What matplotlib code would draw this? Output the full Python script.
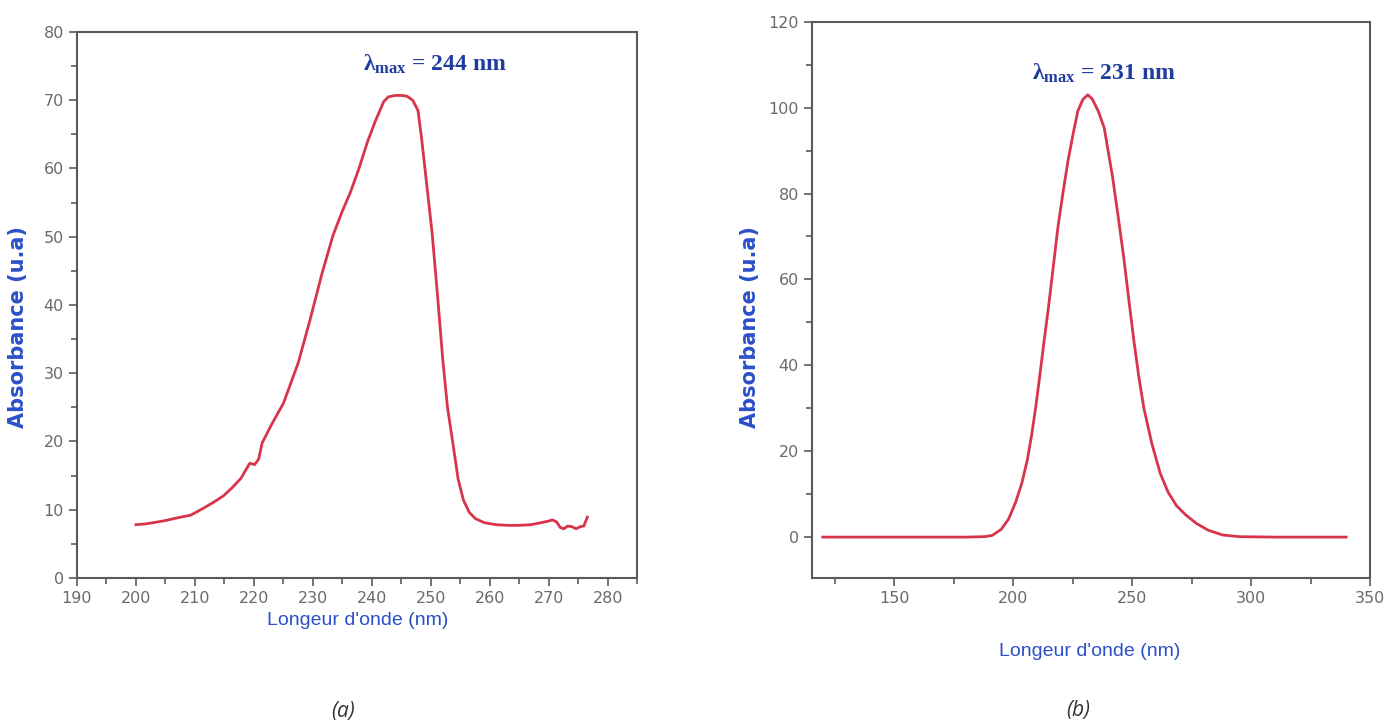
import matplotlib
matplotlib.use("Agg")
import matplotlib.pyplot as plt
from matplotlib.ticker import MultipleLocator

# (a) spectrum
wl_a = [200, 201.5, 203, 205, 207, 209.3, 211, 213, 214.8, 216.4,
        217.8, 218.6, 219.3, 220.1, 220.8, 221.4, 223, 225, 227.5, 229.5,
        231.5, 233.4, 235, 236.3, 237.8, 239.2, 240.6, 242, 242.8, 244,
        245, 245.9, 246.9, 247.8, 248.4, 249.3, 250.2, 251.1, 252, 252.8,
        253.7, 254.6, 255.5, 256.5, 257.5, 259, 261, 263, 265, 267,
        268.7, 269.8, 270.6, 271.3, 271.9, 272.5, 273.2, 273.9, 274.6, 275.3,
        275.9, 276.5]
abs_a = [7.8, 7.9, 8.1, 8.4, 8.8, 9.2, 10.0, 11.0, 12.0, 13.3,
         14.6, 15.8, 16.8, 16.6, 17.4, 19.8, 22.5, 25.6, 31.5, 37.8,
         44.5, 50.2, 53.8, 56.4, 60.0, 63.8, 67.0, 69.8, 70.5, 70.7,
         70.7, 70.6, 70.0, 68.5, 64.5, 57.5, 50.5, 41.5, 32.0, 25.0,
         19.8, 14.5, 11.4, 9.6, 8.7, 8.1, 7.8, 7.7, 7.7, 7.8,
         8.1, 8.3, 8.5, 8.2, 7.4, 7.2, 7.6, 7.5, 7.2, 7.5,
         7.6, 8.9]

# (b) spectrum
wl_b = [120, 150, 180, 188, 191.3, 195, 198.1, 201, 203.7, 206,
        207.9, 209.7, 211.3, 213, 214.8, 216.8, 218.9, 221, 223.1, 225.2,
        227.2, 229.3, 231.4, 233.3, 235.8, 238.3, 241.8, 244.2, 246.6, 248.7,
        250.8, 252.8, 254.9, 258.3, 261.8, 265.2, 268.7, 272.5, 277, 282,
        288, 295, 310, 340]
abs_b = [0, 0, 0, 0.1, 0.4, 1.8, 4.2, 8.0, 12.6, 18.0,
         24.1, 31.0, 37.9, 45.5, 53.2, 62.5, 72.4, 80.3, 87.7, 93.8,
         99.2, 101.9, 103.0, 102.0, 99.2, 95.3, 83.9, 74.5, 64.7, 55.0,
         45.6, 37.5, 30.2, 21.8, 14.9, 10.4, 7.3, 5.2, 3.2, 1.6,
         0.5, 0.1, 0, 0]

LINE = "#d8344c"
BLUE = "#2b50c8"
DARKBLUE = "#1f3d9e"
SPINE = "#5a5a5a"
TICKTXT = "#6a6a6a"

plt.rcParams["mathtext.fontset"] = "custom"
plt.rcParams["mathtext.rm"] = "Liberation Serif:bold"
plt.rcParams["mathtext.it"] = "Liberation Serif:bold"
plt.rcParams["mathtext.bf"] = "Liberation Serif:bold"


def style_axes(ax, xmajor, xminor, ymajor, yminor):
    for side in ["left", "right", "top", "bottom"]:
        ax.spines[side].set_color(SPINE)
        ax.spines[side].set_linewidth(1.5)
    ax.xaxis.set_major_locator(MultipleLocator(xmajor))
    ax.xaxis.set_minor_locator(MultipleLocator(xminor))
    ax.yaxis.set_major_locator(MultipleLocator(ymajor))
    ax.yaxis.set_minor_locator(MultipleLocator(yminor))
    ax.tick_params(which="both", direction="out", colors=SPINE,
                   labelcolor=TICKTXT, width=1.2, top=False, right=False)
    ax.tick_params(which="major", length=6, labelsize=11.5)
    ax.tick_params(which="minor", length=4)


fig = plt.figure(figsize=(13.84, 7.26), dpi=100)

# panel (a)
ax1 = fig.add_axes([0.0556, 0.204, 0.405, 0.752])
ax1.plot(wl_a, abs_a, color=LINE, lw=2)
ax1.set_xlim(190, 285)
ax1.set_ylim(0, 80)
style_axes(ax1, 10, 5, 10, 5)
ax1.text(238.5, 74.3, r"$\lambda_{\mathrm{max}}$ = 244 nm", color=DARKBLUE,
         fontsize=17, family="Liberation Serif", weight="bold",
         ha="left", va="baseline")

# panel (b)
ax2 = fig.add_axes([0.5867, 0.204, 0.4032, 0.766])
ax2.plot(wl_b, abs_b, color=LINE, lw=2)
ax2.set_xlim(115.5, 350)
ax2.set_ylim(-9.5, 120)
style_axes(ax2, 50, 25, 20, 10)
ax2.set_xticks([150, 200, 250, 300, 350])
ax2.text(208, 106.5, r"$\lambda_{\mathrm{max}}$ = 231 nm", color=DARKBLUE,
         fontsize=17, family="Liberation Serif", weight="bold",
         ha="left", va="baseline")

# axis titles
ylab = dict(color=BLUE, fontsize=15, weight="bold", family="DejaVu Sans",
            rotation=90, ha="center", va="center")
fig.text(0.013, 0.55, "Absorbance (u.a)", **ylab)
fig.text(0.542, 0.55, "Absorbance (u.a)", **ylab)
xlab = dict(color=BLUE, fontsize=14, family="Liberation Sans",
            ha="center", va="center")
fig.text(0.2587, 0.146, "Longeur d'onde (nm)", **xlab)
fig.text(0.7876, 0.102, "Longeur d'onde (nm)", **xlab)

# panel captions
fig.text(0.2478, 0.02, "(a)", fontsize=15, style="italic", color="#333333",
         family="Open Sans", ha="center", va="center")
fig.text(0.779, 0.022, "(b)", fontsize=15, style="italic", color="#333333",
         family="Open Sans", ha="center", va="center")

fig.savefig("out.png", dpi=100)
